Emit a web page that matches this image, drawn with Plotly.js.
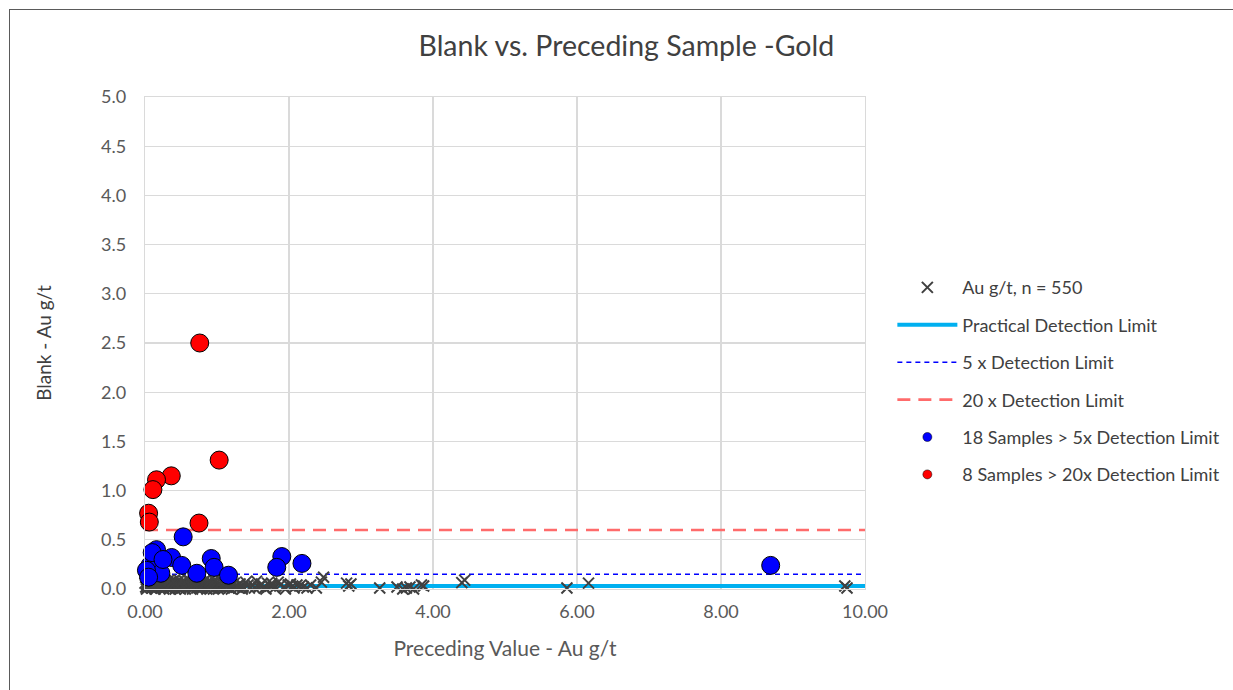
<!DOCTYPE html>
<html>
<head>
<meta charset="utf-8">
<script src="https://cdn.plot.ly/plotly-3.0.1.min.js"></script>
<style>
html,body{margin:0;padding:0;background:#fff;}
#wrap{position:relative;width:1233px;height:690px;}
#chart{width:1233px;height:690px;}
#frame{position:absolute;left:9px;top:9px;right:0;bottom:0;border-left:1.5px solid #5a5a5a;border-top:1.5px solid #5a5a5a;pointer-events:none;}
</style>
</head>
<body>
<div id="wrap"><div id="chart"></div><div id="frame"></div></div>
<script>
// ---- data ----
const chartTitle = "Blank vs. Preceding Sample -Gold";
const xTitle = "Preceding Value - Au g/t";
const yTitle = "Blank - Au g/t";
const detectionLimit = 0.03;
const xExtent = [0, 10];

// all blanks (grey crosses), n = 550 (dense cluster approximated)
const allX = [
 0.01,0.02,0.03,0.04,0.05,0.06,0.07,0.08,0.09,0.10,0.12,0.13,0.15,0.17,0.18,0.20,0.22,0.24,0.25,0.27,0.29,0.31,0.33,0.35,0.37,0.39,0.41,0.43,0.45,0.47,0.50,0.52,0.55,0.57,0.60,0.62,0.65,0.68,0.70,0.73,0.76,0.79,0.82,0.85,0.88,0.91,0.94,0.97,1.00,1.04,1.08,1.12,1.17,1.22,1.27,
 0.02,0.04,0.06,0.09,0.11,0.14,0.16,0.19,0.21,0.23,0.26,0.28,0.30,0.32,0.34,0.36,0.38,0.40,0.42,0.44,0.46,0.49,0.51,0.53,0.56,0.58,0.61,0.63,0.66,0.69,0.72,0.74,0.77,0.80,0.83,0.86,0.89,0.92,0.95,0.99,1.02,1.06,1.10,1.15,1.20,1.25,1.30,
 0.00,0.03,0.05,0.08,0.11,0.13,0.16,0.18,0.21,0.24,0.27,0.30,0.33,0.36,0.39,0.42,0.45,0.48,0.51,0.54,0.57,0.60,0.64,0.67,0.70,0.74,0.78,0.81,0.84,0.87,0.90,0.93,0.96,1.00,1.03,1.07,1.11,1.14,1.18,1.21,1.24,1.28,
 1.32,1.36,1.40,1.45,1.50,1.55,1.58,1.62,1.66,1.70,1.74,1.78,1.80,1.85,1.88,1.93,1.99,2.02,2.07,2.11,2.15,2.20,
 1.35,1.43,1.52,1.60,1.68,1.76,1.95,2.05,2.25,2.30,
 2.38,2.45,2.48,2.80,2.83,2.86,3.26,3.50,3.58,3.63,3.68,3.73,3.84,3.87,4.40,4.44,5.86,6.16,9.72,9.75
];
const allY = [
 0.02,0.05,0.01,0.08,0.03,0.06,0.02,0.09,0.04,0.01,0.07,0.03,0.05,0.02,0.10,0.04,0.01,0.06,0.03,0.08,0.02,0.05,0.01,0.07,0.04,0.02,0.09,0.03,0.06,0.01,0.05,0.02,0.08,0.03,0.04,0.01,0.06,0.02,0.07,0.03,0.05,0.01,0.04,0.06,0.02,0.03,0.05,0.01,0.04,0.02,0.06,0.03,0.01,0.04,0.02,
 0.00,0.03,0.07,0.01,0.04,0.00,0.08,0.02,0.05,0.09,0.00,0.04,0.07,0.03,0.00,0.06,0.01,0.04,0.00,0.07,0.03,0.00,0.06,0.04,0.00,0.05,0.02,0.08,0.00,0.04,0.01,0.05,0.00,0.07,0.02,0.00,0.05,0.01,0.00,0.06,0.00,0.03,0.01,0.05,0.00,0.02,0.01,
 0.06,0.10,0.04,0.07,0.09,0.02,0.06,0.08,0.03,0.10,0.06,0.02,0.09,0.05,0.08,0.06,0.03,0.09,0.07,0.02,0.06,0.09,0.03,0.08,0.05,0.09,0.02,0.07,0.09,0.04,0.08,0.06,0.09,0.07,0.05,0.08,0.06,0.02,0.07,0.04,0.06,0.03,
 0.05,0.02,0.07,0.01,0.04,0.08,0.02,0.05,0.01,0.06,0.03,0.04,0.01,0.07,0.04,0.02,0.04,0.05,0.01,0.04,0.03,0.02,
 0.00,0.04,0.01,0.03,0.00,0.06,0.00,0.03,0.01,0.04,
 0.01,0.07,0.12,0.06,0.03,0.05,0.01,0.02,0.00,0.01,0.02,0.00,0.04,0.03,0.065,0.09,0.01,0.06,0.03,0.01
];

// blanks above 5x detection limit
const over5X = [0.53,8.69,1.90,1.83,2.18,0.16,0.37,0.07,0.51,0.92,0.96,0.22,0.72,1.16,0.02,0.10,0.25,0.05];
const over5Y = [0.53,0.24,0.33,0.22,0.26,0.40,0.32,0.24,0.24,0.31,0.22,0.16,0.16,0.14,0.19,0.37,0.30,0.12];

// blanks above 20x detection limit
const over20X = [0.76,1.03,0.365,0.16,0.11,0.05,0.06,0.75];
const over20Y = [2.50,1.31,1.15,1.11,1.01,0.77,0.68,0.67];

const legendNames = [
 "Au g/t, n = 550",
 "Practical Detection Limit",
 "5 x Detection Limit",
 "20 x Detection Limit",
 "18 Samples > 5x Detection Limit",
 "8 Samples > 20x Detection Limit"
];
const yTicks = [0,0.5,1,1.5,2,2.5,3,3.5,4,4.5,5];
const xTicks = [0,2,4,6,8,10];

// ---- traces ----
const FONT = "Lato, 'Open Sans', sans-serif";
const lineY = m => xExtent.map(() => detectionLimit * m);

const traces = [
 {x: xExtent, y: lineY(1), mode:'lines', name: legendNames[1], line:{color:'#00b0f0', width:4},
  legendgroup:'g2', legendrank:2, hoverinfo:'skip'},
 {x: xExtent, y: lineY(5), mode:'lines', name: legendNames[2], line:{color:'#0000ff', width:1.6, dash:'5px,4px'},
  legendgroup:'g3', legendrank:3, hoverinfo:'skip'},
 {x: xExtent, y: lineY(20), mode:'lines', name: legendNames[3], line:{color:'#ff6b6b', width:2.6, dash:'13px,8px'},
  legendgroup:'g4', legendrank:4, hoverinfo:'skip'},
 {x: allX, y: allY, mode:'markers', name: legendNames[0], cliponaxis:false,
  marker:{symbol:'x-thin', size:11, color:'#404040', line:{color:'#404040', width:2}},
  legendgroup:'g1', legendrank:1},
 {x: over5X, y: over5Y, mode:'markers', name: legendNames[4], showlegend:false, cliponaxis:false,
  marker:{symbol:'circle', size:18, color:'#0000ff', line:{color:'#000', width:1}}},
 {x: over20X, y: over20Y, mode:'markers', name: legendNames[5], showlegend:false, cliponaxis:false,
  marker:{symbol:'circle', size:18, color:'#ff0000', line:{color:'#000', width:1}}},
 // legend proxies with small dots
 {x:[null], y:[null], mode:'markers', name: legendNames[4], legendgroup:'g5', legendrank:5,
  marker:{symbol:'circle', size:9, color:'#0000ff', line:{color:'#000', width:0.5}}},
 {x:[null], y:[null], mode:'markers', name: legendNames[5], legendgroup:'g6', legendrank:6,
  marker:{symbol:'circle', size:9, color:'#ff0000', line:{color:'#000', width:0.5}}}
];

const layout = {
 width:1233, height:690,
 margin:{l:145, r:368, t:97, b:101, autoexpand:false},
 paper_bgcolor:'#fff', plot_bgcolor:'#fff',
 font:{family:FONT, color:'#595959', size:18},
 title:{text: chartTitle, x:0.508, xanchor:'center', y:0.933, yanchor:'middle',
        font:{family:FONT, size:28.5, color:'#404040'}},
 xaxis:{range:xExtent, tickvals:xTicks, ticktext:xTicks.map(v=>v.toFixed(2)),
        showgrid:true, gridcolor:'#dadada', gridwidth:1.2,
        showline:true, linecolor:'#dadada', linewidth:1.2, mirror:true, zeroline:false,
        ticks:'outside', ticklen:6, tickcolor:'rgba(0,0,0,0)',
        tickfont:{family:FONT, size:18, color:'#595959'},
        title:{text:xTitle, standoff:20, font:{family:FONT, size:21, color:'#595959'}}},
 yaxis:{range:[0,5], tickvals:yTicks, ticktext:yTicks.map(v=>v.toFixed(1)),
        showgrid:true, gridcolor:'#dadada', gridwidth:1.2,
        showline:true, linecolor:'#dadada', linewidth:1.2, mirror:true, zeroline:false,
        ticks:'outside', ticklen:14, tickcolor:'rgba(0,0,0,0)',
        tickfont:{family:FONT, size:18, color:'#595959'},
        title:{text:yTitle, standoff:44, font:{family:FONT, size:19, color:'#404040'}}},
 showlegend:true,
 legend:{x:1.038, xanchor:'left', y:0.65, yanchor:'top', traceorder:'grouped',
         tracegroupgap:11, itemwidth:60, bgcolor:'rgba(0,0,0,0)',
         font:{family:FONT, size:18, color:'#404040'}},
 hovermode:false
};

Plotly.newPlot('chart', traces, layout, {displayModeBar:false, staticPlot:true});
</script>
</body>
</html>
